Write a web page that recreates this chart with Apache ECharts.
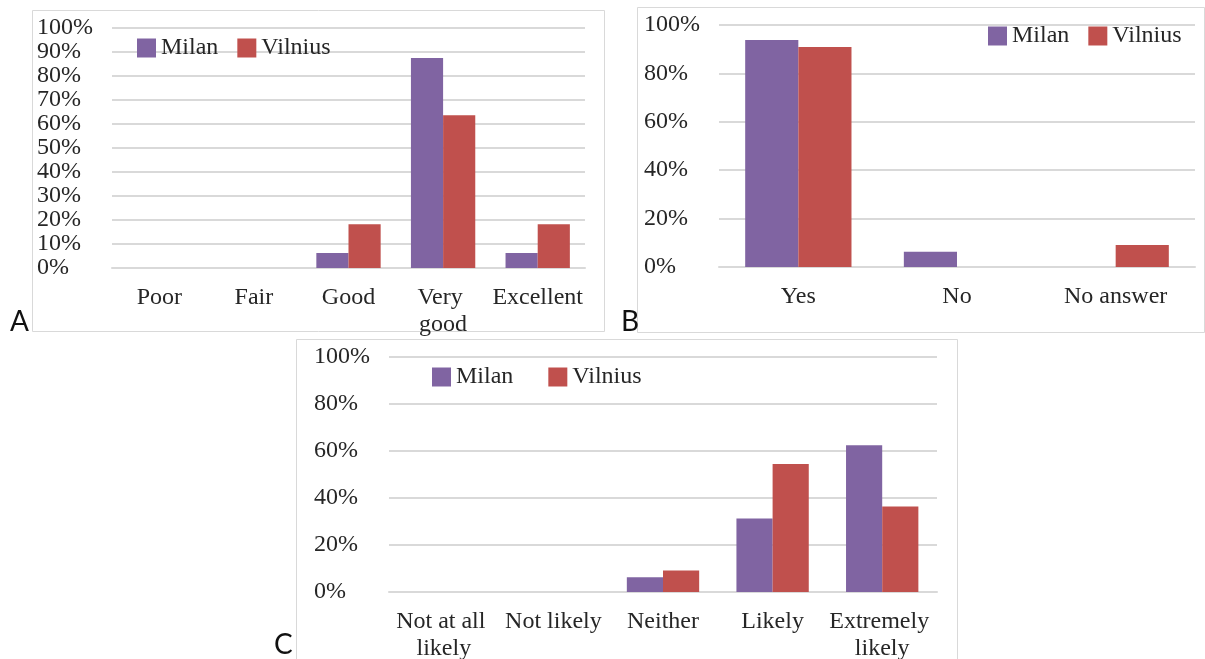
<!DOCTYPE html>
<html>
<head>
<meta charset="utf-8">
<script src="https://cdn.jsdelivr.net/npm/echarts@6/dist/echarts.min.js"></script>
<style>
  html, body { margin: 0; padding: 0; background: #fff; }
  #chart { width: 1205px; height: 659px; }
</style>
</head>
<body>
<div id="chart"></div>
<script>
// A: rating of the visit
var ratingCats = ['Poor', 'Fair', 'Good', 'Very good', 'Excellent']
var ratingMilan = [0, 0, 6.3, 87.5, 6.3]
var ratingVilnius = [0, 0, 18.2, 63.6, 18.2]

// B: would recommend
var recommendCats = ['Yes', 'No', 'No answer']
var recommendMilan = [93.8, 6.3, 0]
var recommendVilnius = [90.9, 0, 9.1]

// C: likely to come back
var likelyCats = ['Not at all likely', 'Not likely', 'Neither', 'Likely', 'Extremely likely']
var likelyMilan = [0, 0, 6.3, 31.3, 62.5]
var likelyVilnius = [0, 0, 9.1, 54.5, 36.4]

var cityNames = ['Milan', 'Vilnius']
var colors = ['#8064A2', '#C0504D']

var serif = '"Liberation Serif", "DejaVu Serif", serif'
var textColor = '#262626'
var gridColor = '#d9d9d9'

function catAxis(idx, data, labelWidth) {
  return {
    type: 'category',
    gridIndex: idx,
    data: data,
    axisLine: { show: true, lineStyle: { color: gridColor, width: 2 } },
    axisTick: { show: false },
    axisLabel: {
      interval: 0,
      margin: 16,
      color: textColor,
      fontFamily: serif,
      fontSize: 24,
      lineHeight: 27,
      width: labelWidth,
      overflow: 'break'
    }
  }
}

function valAxis(idx, step) {
  return {
    type: 'value',
    gridIndex: idx,
    min: 0,
    max: 100,
    interval: step,
    axisLine: { show: false },
    axisTick: { show: false },
    splitLine: { lineStyle: { color: gridColor, width: 2 } },
    axisLabel: {
      formatter: '{value}%',
      align: 'left',
      margin: 75,
      padding: [5, 0, 0, 0],
      color: textColor,
      fontFamily: serif,
      fontSize: 24
    }
  }
}

function legendAt(idx, left, top, gap) {
  return {
    data: cityNames,
    left: left,
    top: top,
    padding: 0,
    icon: 'rect',
    itemWidth: 19,
    itemHeight: 19,
    itemGap: gap,
    selectedMode: false,
    textStyle: { color: textColor, fontFamily: serif, fontSize: 24 }
  }
}

function barSeries(name, idx, data, color, catGap) {
  return {
    name: name,
    type: 'bar',
    xAxisIndex: idx,
    yAxisIndex: idx,
    data: data,
    barGap: '0%',
    barCategoryGap: catGap,
    itemStyle: { color: color },
    silent: true
  }
}

function panelBox(x, y, w, h) {
  return {
    type: 'rect',
    shape: { x: x, y: y, width: w, height: h },
    style: { fill: 'none', stroke: gridColor, lineWidth: 1 },
    silent: true
  }
}

function letter(t, x, y) {
  return {
    type: 'text',
    x: x,
    y: y,
    style: {
      text: t,
      fill: '#111',
      font: '28px Lato, "DejaVu Sans", sans-serif',
      verticalAlign: 'middle'
    },
    z: 10
  }
}

var chart = echarts.init(document.getElementById('chart'), null, { renderer: 'canvas' })

chart.setOption({
  backgroundColor: '#fff',
  animation: false,
  color: colors,
  grid: [
    { left: 112, top: 28, width: 473, height: 240, outerBoundsMode: 'none' },
    { left: 719, top: 25, width: 476, height: 242, outerBoundsMode: 'none' },
    { left: 389, top: 357, width: 548, height: 235, outerBoundsMode: 'none' }
  ],
  xAxis: [
    catAxis(0, ratingCats, 92),
    catAxis(1, recommendCats, 150),
    catAxis(2, likelyCats, 108)
  ],
  yAxis: [
    valAxis(0, 10),
    valAxis(1, 20),
    valAxis(2, 20)
  ],
  legend: [
    legendAt(0, 137, 36, 19),
    legendAt(1, 988, 24, 19),
    legendAt(2, 432, 365, 35)
  ],
  series: [
    barSeries('Milan', 0, ratingMilan, colors[0], '32%'),
    barSeries('Vilnius', 0, ratingVilnius, colors[1], '32%'),
    barSeries('Milan', 1, recommendMilan, colors[0], '33%'),
    barSeries('Vilnius', 1, recommendVilnius, colors[1], '33%'),
    barSeries('Milan', 2, likelyMilan, colors[0], '34%'),
    barSeries('Vilnius', 2, likelyVilnius, colors[1], '34%')
  ],
  graphic: [
    panelBox(32.5, 10.5, 572, 321),
    panelBox(637.5, 7.5, 567, 325),
    panelBox(296.5, 339.5, 661, 330),
    letter('A', 10, 322),
    letter('B', 621, 322),
    letter('C', 274, 645)
  ]
})
</script>
</body>
</html>
